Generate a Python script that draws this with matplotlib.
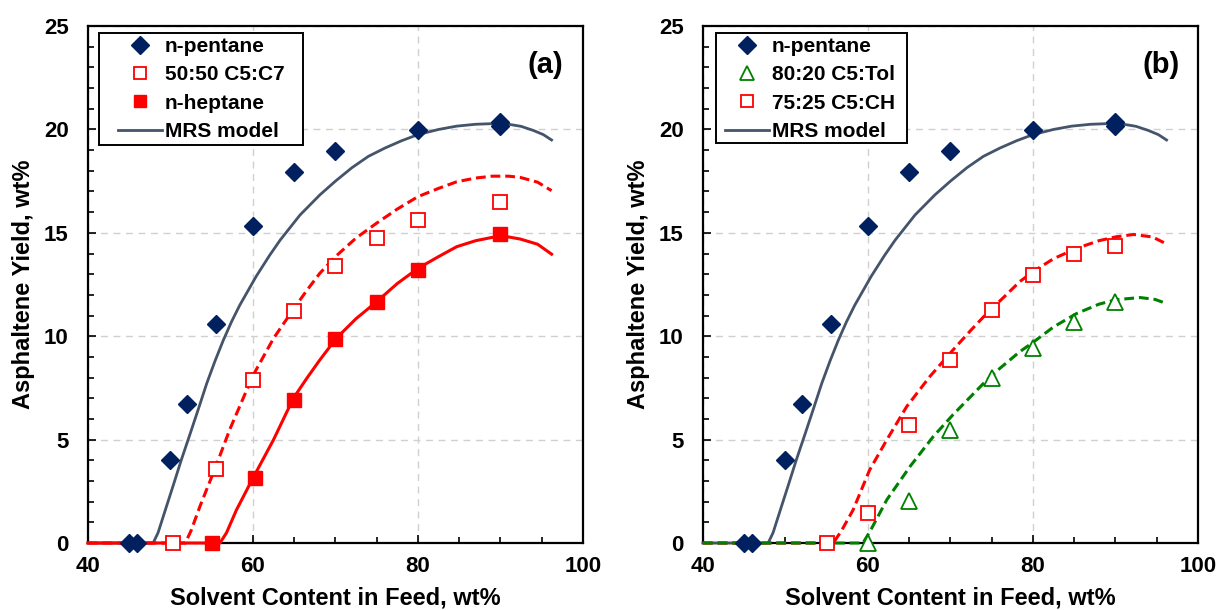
import numpy as np
import matplotlib
matplotlib.use("Agg")
import matplotlib.pyplot as plt
from matplotlib.ticker import MultipleLocator
from matplotlib.lines import Line2D
from matplotlib.patches import Rectangle

plt.rcParams['font.family'] = ['Liberation Sans', 'DejaVu Sans']
plt.rcParams['font.weight'] = 'bold'

# ---- data ----
# n-pentane (both panels)
c5_x = [45, 46, 50, 52, 55.5, 60, 65, 70, 80, 90, 90]
c5_y = [0, 0, 4.0, 6.7, 10.6, 15.35, 17.95, 18.95, 19.95, 20.15, 20.35]

# panel (a)
c5c7_x = [50.3, 55.5, 60, 65, 70, 75, 80, 90]
c5c7_y = [0, 3.6, 7.88, 11.2, 13.4, 14.75, 15.6, 16.5]
c7_x = [55, 60.3, 65, 70, 75, 80, 90]
c7_y = [0, 3.14, 6.9, 9.86, 11.65, 13.2, 14.94]

# panel (b)
tol_x = [60, 65, 70, 75, 80, 85, 90]
tol_y = [0, 2.05, 5.46, 7.98, 9.43, 10.7, 11.65]
ch_x = [55, 60, 65, 70, 75, 80, 85, 90]
ch_y = [0, 1.43, 5.7, 8.85, 11.27, 12.96, 14.0, 14.35]

# MRS model curves
mrs_c5_x = [40, 47.9, 48.5, 49.3, 50.3, 51.3, 52.4, 53.4, 54.4, 55.4, 56.4, 57.4,
            58.4, 60.4, 62.0, 63.3, 65.7, 68.1, 70.0, 72.0, 74.0, 76.0, 78.0,
            80.0, 82.5, 84.7, 87.0, 89.0, 91.0, 92.5, 94.0, 95.2, 96.2]
mrs_c5_y = [0, 0, 0.5, 1.5, 2.74, 4.0, 5.3, 6.5, 7.72, 8.8, 9.8, 10.7,
            11.5, 12.9, 13.9, 14.65, 15.86, 16.83, 17.5, 18.15, 18.7, 19.1, 19.45,
            19.75, 20.0, 20.16, 20.25, 20.28, 20.25, 20.15, 19.95, 19.75, 19.49]

mrs_c5c7_x = [40, 51.8, 52.5, 53.6, 55.4, 57.2, 60.0, 62.5, 64.9, 66.5, 68.1, 70.0,
              72.5, 75.0, 77.5, 80.0, 82.5, 84.7, 87.0, 89.0, 91.0, 92.4, 94.5, 96.2]
mrs_c5c7_y = [0, 0, 0.6, 1.8, 3.6, 5.5, 8.1, 9.9, 11.3, 12.2, 13.04, 13.85,
              14.75, 15.47, 16.15, 16.75, 17.15, 17.47, 17.65, 17.74, 17.74, 17.68, 17.45, 17.04]

mrs_c7_x = [40, 56.0, 56.8, 58.0, 60.0, 62.5, 64.9, 66.5, 68.1, 70.1, 72.5, 75.0,
            77.5, 80.0, 82.5, 84.7, 87.0, 89.0, 91.0, 92.4, 94.5, 96.2]
mrs_c7_y = [0, 0, 0.5, 1.6, 3.14, 5.0, 7.0, 7.95, 8.85, 9.9, 10.85, 11.67,
            12.55, 13.28, 13.85, 14.33, 14.62, 14.78, 14.8, 14.7, 14.45, 13.97]

mrs_ch_x = [40, 55.8, 56.8, 58.2, 60.2, 62.3, 64.7, 67.5, 70.3, 72.5, 74.4, 76.5,
            78.4, 80.0, 82.5, 85.3, 88.0, 90.1, 92.2, 94.5, 96.2]
mrs_ch_y = [0, 0, 0.6, 1.6, 3.53, 5.0, 6.6, 8.05, 9.33, 10.3, 11.1, 11.9,
            12.64, 13.12, 13.75, 14.25, 14.62, 14.81, 14.92, 14.8, 14.46]

mrs_tol_x = [40, 59.4, 60.3, 62.3, 65.1, 67.9, 70.3, 72.5, 74.4, 76.0, 78.4, 80.0,
             82.5, 85.3, 88.0, 90.1, 93.0, 94.8, 96.2]
mrs_tol_y = [0, 0, 0.6, 2.1, 3.7, 5.14, 6.2, 7.1, 7.88, 8.45, 9.25, 9.7,
             10.45, 11.1, 11.55, 11.77, 11.87, 11.78, 11.58]

NAVY = '#002060'
GRAY = '#44546A'
RED = '#FF0000'
GREEN = '#008000'

fig = plt.figure(figsize=(12.2, 6.1), dpi=100)
ax_a = fig.add_axes([0.0721, 0.1098, 0.4057, 0.8475])
ax_b = fig.add_axes([0.5762, 0.1098, 0.4057, 0.8475])


def style_axes(ax, tag):
    ax.set_xlim(40, 100)
    ax.set_ylim(0, 25)
    ax.xaxis.set_major_locator(MultipleLocator(20))
    ax.xaxis.set_minor_locator(MultipleLocator(5))
    ax.yaxis.set_major_locator(MultipleLocator(5))
    ax.yaxis.set_minor_locator(MultipleLocator(1))
    ax.tick_params(which='both', direction='in', top=False, right=False,
                   labelsize=16, width=1.2)
    ax.tick_params(axis='x', pad=9)
    ax.tick_params(axis='y', pad=14)
    ax.tick_params(which='major', length=6)
    ax.tick_params(which='minor', length=4)
    for lab in ax.get_xticklabels() + ax.get_yticklabels():
        lab.set_fontweight('bold')
    for sp in ax.spines.values():
        sp.set_linewidth(1.6)
        sp.set_color('black')
    ax.grid(True, which='major', ls=(0, (5, 4)), color='#D0D0D0', lw=1.0)
    ax.set_axisbelow(True)
    ax.set_xlabel('Solvent Content in Feed, wt%', fontsize=17, fontweight='bold', labelpad=7)
    ax.set_ylabel('Asphaltene Yield, wt%', fontsize=17, fontweight='bold', labelpad=6)
    ax.text(0.925, 0.925, tag, transform=ax.transAxes, fontsize=21,
            fontweight='bold', ha='center', va='center')


def add_legend(ax, handles, labels, box, anchor_x):
    # square box drawn separately so the side padding can be wider than top/bottom
    x0, y0, x1, y1 = box
    ax.add_patch(Rectangle((x0, y0), x1 - x0, y1 - y0, transform=ax.transAxes,
                           facecolor='white', edgecolor='black', lw=1.4, zorder=6))
    leg = ax.legend(handles, labels, loc='upper left', bbox_to_anchor=(anchor_x, 0.979),
                    prop={'weight': 'bold', 'size': 15}, frameon=False,
                    handlelength=2.1, borderpad=0, labelspacing=0.45,
                    handletextpad=0.15, borderaxespad=0)
    leg.set_zorder(7)


dash = (0, (3.2, 1.6))

# ---- panel (a) ----
ax = ax_a
ax.plot(mrs_c5_x, mrs_c5_y, color=GRAY, lw=2.0, zorder=3, clip_on=False)
ax.plot(mrs_c5c7_x, mrs_c5c7_y, color=RED, lw=2.2, ls=dash, zorder=3, clip_on=False)
ax.plot(mrs_c7_x, mrs_c7_y, color=RED, lw=2.2, zorder=3, clip_on=False)
ax.plot(c5_x, c5_y, 'D', color=NAVY, ms=9, ls='none', zorder=5, clip_on=False)
ax.plot(c5c7_x, c5c7_y, 's', mfc='white', mec=RED, mew=1.3, ms=10, ls='none', zorder=5, clip_on=False)
ax.plot(c7_x, c7_y, 's', color=RED, ms=10, ls='none', zorder=5, clip_on=False)
style_axes(ax, '(a)')
add_legend(ax, [
    Line2D([], [], marker='D', color=NAVY, ms=9, ls='none'),
    Line2D([], [], marker='s', mfc='white', mec=RED, mew=1.3, ms=9, ls='none'),
    Line2D([], [], marker='s', color=RED, ms=9, ls='none'),
    Line2D([], [], color=GRAY, lw=2.0),
], ['n-pentane', '50:50 C5:C7', 'n-heptane', 'MRS model'],
    (0.022, 0.770, 0.434, 0.986), 0.0606)

# ---- panel (b) ----
ax = ax_b
ax.plot(mrs_c5_x, mrs_c5_y, color=GRAY, lw=2.0, zorder=3, clip_on=False)
ax.plot(mrs_ch_x, mrs_ch_y, color=RED, lw=2.2, ls=dash, zorder=3, clip_on=False)
ax.plot(mrs_tol_x, mrs_tol_y, color=GREEN, lw=2.2, ls=dash, zorder=3, clip_on=False)
ax.plot(c5_x, c5_y, 'D', color=NAVY, ms=9, ls='none', zorder=5, clip_on=False)
ax.plot(tol_x, tol_y, '^', mfc='white', mec=GREEN, mew=1.3, ms=11, ls='none', zorder=5, clip_on=False)
ax.plot(ch_x, ch_y, 's', mfc='white', mec=RED, mew=1.3, ms=10, ls='none', zorder=5, clip_on=False)
style_axes(ax, '(b)')
add_legend(ax, [
    Line2D([], [], marker='D', color=NAVY, ms=9, ls='none'),
    Line2D([], [], marker='^', mfc='white', mec=GREEN, mew=1.3, ms=10, ls='none'),
    Line2D([], [], marker='s', mfc='white', mec=RED, mew=1.3, ms=9, ls='none'),
    Line2D([], [], color=GRAY, lw=2.0),
], ['n-pentane', '80:20 C5:Tol', '75:25 C5:CH', 'MRS model'],
    (0.026, 0.774, 0.413, 0.986), 0.0444)

fig.savefig('out.png', dpi=100)
